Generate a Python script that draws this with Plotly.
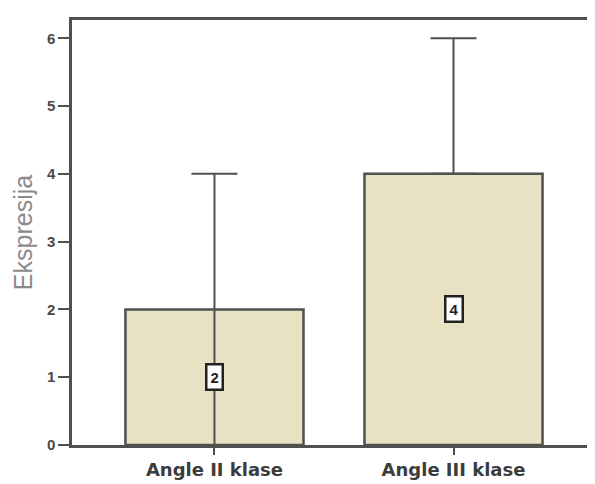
import plotly.graph_objects as go

categories = ["Angle II klase", "Angle III klase"]
values = [2, 4]
err_plus = [2, 2]
err_minus = [2, 0]
labels = ["2", "4"]
y_ticks = [0, 1, 2, 3, 4, 5, 6]

dark = "#505050"
fill = "#e8e1c3"

fig = go.Figure()
fig.add_trace(go.Bar(
    x=[0, 1], y=values, width=0.745,
    marker=dict(color=fill, line=dict(color=dark, width=2.5)),
    error_y=dict(type="data", symmetric=False, array=err_plus, arrayminus=err_minus,
                 color=dark, thickness=2, width=23),
    showlegend=False,
))

for i, (v, lab) in enumerate(zip(values, labels)):
    fig.add_annotation(x=i, y=v / 2, text="<b>" + lab + "</b>", showarrow=False,
                       font=dict(family="Liberation Sans", size=15, color="#222"),
                       bgcolor="white", bordercolor="#222", borderwidth=2.5, borderpad=3)

fig.update_layout(
    width=595, height=484,
    margin=dict(l=64, r=2, t=12, b=47),
    plot_bgcolor="white", paper_bgcolor="white",
    xaxis=dict(range=[-0.596, 1.617], tickvals=[0, 1], ticktext=["<b>" + c + "</b>" for c in categories],
               tickfont=dict(family="DejaVu Sans", size=18, color="#3c3c3c"),
               ticks="outside", ticklen=7, tickwidth=2, tickcolor=dark,
               showline=True, linecolor=dark, linewidth=2.5, mirror=False,
               showgrid=False, zeroline=False),
    yaxis=dict(range=[0, 6.27], tickvals=y_ticks, ticktext=["<b>%d</b>" % t for t in y_ticks],
               tickfont=dict(family="Liberation Sans", size=15, color="#4a4a4a"),
               ticks="outside", ticklen=11, tickwidth=2, tickcolor=dark,
               showline=True, linecolor=dark, linewidth=2.5, mirror=False,
               showgrid=False, zeroline=False,
               title=dict(text="Ekspresija", font=dict(family="Liberation Sans", size=25, color="#8a8a8a"),
                          standoff=8)),
    xaxis2=dict(overlaying="x", side="top", showline=True, linecolor=dark, linewidth=2.5,
                showticklabels=False, ticks="", showgrid=False, zeroline=False,
                range=[-0.596, 1.617]),
)
fig.add_trace(go.Scatter(x=[None], y=[None], xaxis="x2", showlegend=False))

fig.write_html("out.html")
